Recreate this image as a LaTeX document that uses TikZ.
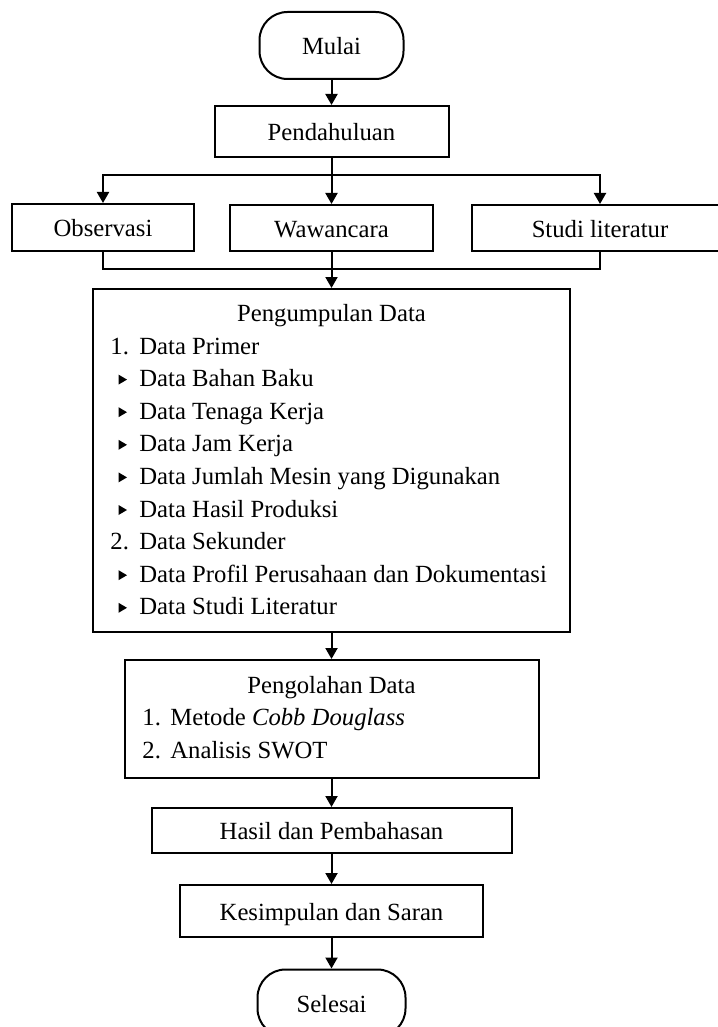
\documentclass[tikz,border=0pt]{standalone}
\usepackage{fontspec}
\setmainfont{Liberation Serif}
\usetikzlibrary{arrows.meta}
\begin{document}
\begin{tikzpicture}[x=0.5pt,y=-0.5pt,
  font=\fontsize{12.35pt}{16.3pt}\selectfont,
  box/.style={draw,line width=1pt,inner sep=0pt,text height=10pt,text depth=1pt},
  term/.style={box,rounded corners=14pt},
  arr/.style={line width=1pt,-{Triangle[length=5.5pt,width=6pt]}},
  conn/.style={line width=1pt},
  txt/.style={anchor=base west,inner sep=0pt},
  ttl/.style={anchor=base,inner sep=0pt}]
\useasboundingbox (0,0) rectangle (717,1027);
% terminal and process boxes
\node[term,minimum width=72pt,minimum height=33.5pt] (mulai) at (331.5,45.5) {Mulai};
\node[box,minimum width=117pt,minimum height=25.5pt] (pend) at (331.5,131.5) {Pendahuluan};
\node[box,minimum width=91pt,minimum height=23.5pt] (obs) at (103,227.5) {Observasi};
\node[box,minimum width=101.5pt,minimum height=23pt] (waw) at (331.5,228) {Wawancara};
\node[box,minimum width=128pt,minimum height=23pt] (stud) at (600,228) {Studi literatur};
\node[box,minimum width=238.5pt,minimum height=171.5pt] (pengum) at (331.5,460.5) {};
\node[box,minimum width=207pt,minimum height=59pt] (pengol) at (331.5,719) {};
\node[box,minimum width=180pt,minimum height=22.5pt] (hasil) at (331.5,830.5) {Hasil dan Pembahasan};
\node[box,minimum width=151.5pt,minimum height=26pt] (kesim) at (331.5,911) {Kesimpulan dan Saran};
\node[term,minimum width=74pt,minimum height=33.5pt] (selesai) at (331.5,1003) {Selesai};
% Pengumpulan Data content
\node[ttl] (t1) at (331.5,321.4) {Pengumpulan Data};
\node[txt] (p1) at (110,354.0) {\hbox to 14.5pt{1.\hss}Data Primer};
\node[txt] (p2) at (139,386.6) {Data Bahan Baku};
\node[txt] (p3) at (139,419.2) {Data Tenaga Kerja};
\node[txt] (p4) at (139,451.8) {Data Jam Kerja};
\node[txt] (p5) at (139,484.4) {Data Jumlah Mesin yang Digunakan};
\node[txt] (p6) at (139,517.0) {Data Hasil Produksi};
\node[txt] (p7) at (110,549.6) {\hbox to 14.5pt{2.\hss}Data Sekunder};
\node[txt] (p8) at (139,582.2) {Data Profil Perusahaan dan Dokumentasi};
\node[txt] (p9) at (139,614.8) {Data Studi Literatur};
\foreach \b in {386.6,419.2,451.8,484.4,517.0,582.2,614.8}
  \fill (118.5,\b-12) -- (118.5,\b-2) -- (127,\b-7) -- cycle;
% Pengolahan Data content
\node[ttl] (t2) at (331.5,693) {Pengolahan Data};
\node[txt] (q1) at (142,725.6) {\hbox to 14pt{1.\hss}Metode \textit{Cobb Douglass}};
\node[txt] (q2) at (142,758.2) {\hbox to 14pt{2.\hss}Analisis SWOT};
% connectors
\draw[arr] (mulai) -- (pend);
\draw[arr] (pend) -- (waw);
\draw[arr] (pend.south) -- ++(0,17) -| (obs.north);
\draw[arr] (pend.south) -- ++(0,17) -| (stud.north);
\draw[conn] (obs.south) -- ++(0,17) -| (stud.south);
\draw[arr] (waw) -- (pengum);
\draw[arr] (pengum) -- (pengol);
\draw[arr] (pengol) -- (hasil);
\draw[arr] (hasil) -- (kesim);
\draw[arr] (kesim) -- (selesai);
\end{tikzpicture}
\end{document}
